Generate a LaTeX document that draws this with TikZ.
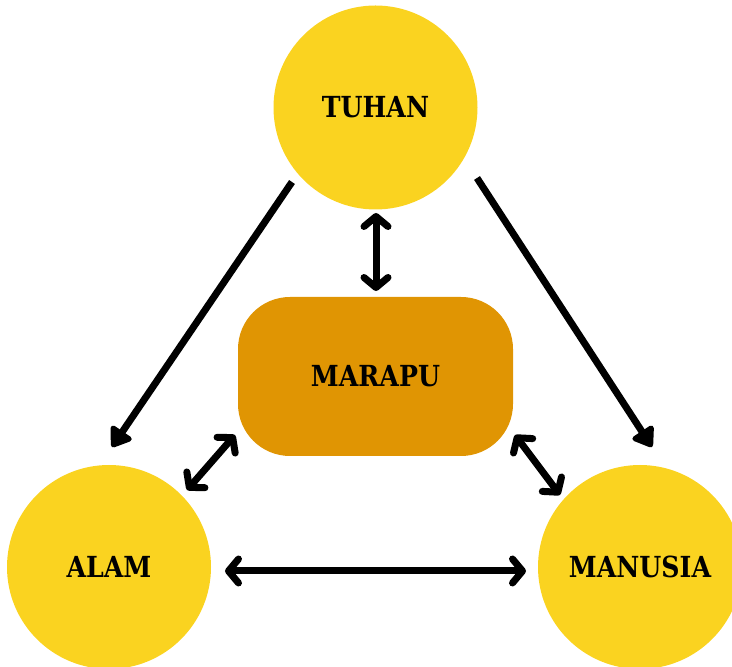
\documentclass[tikz,border=0pt]{standalone}
\usepackage{fontspec}
\setmainfont{DejaVu Serif}[BoldFeatures={FakeStretch=0.87}]
\usetikzlibrary{arrows.meta,calc}
\definecolor{sun}{RGB}{250,211,32}
\definecolor{amber}{RGB}{224,149,3}
\tikzset{
  bigcircle/.style={circle,fill=sun,minimum size=204pt,inner sep=0pt,font=\bfseries\fontsize{29}{34}\selectfont},
  core/.style={rectangle,rounded corners=52pt,fill=amber,minimum width=275pt,minimum height=159pt,inner sep=0pt,font=\bfseries\fontsize{29}{34}\selectfont},
  oneway/.style={line width=7pt,-{Triangle[length=21pt,width=28pt,round]}},
  twoway/.style={line width=7pt,line cap=round,{Straight Barb[length=10pt,width=24pt,round]}-{Straight Barb[length=10pt,width=24pt,round]}}
}
\begin{document}
\begin{tikzpicture}[x=1pt,y=1pt]
\useasboundingbox (0,0) rectangle (732,667);
\node[bigcircle] (tuhan) at (375.5,559.5) {TUHAN};
\node[bigcircle] (alam) at (109,100) {ALAM};
\node[bigcircle] (manusia) at (640,100) {MANUSIA};
\node[core] (marapu) at (375.5,290.5) {MARAPU};
\draw[oneway] ($(tuhan.center)+(-83.5,-74.5)$) -- ($(alam.center)+(3,120)$);
\draw[oneway] ($(tuhan.center)+(101.5,-70.5)$) -- ($(manusia.center)+(12,120)$);
\draw[twoway] ($(tuhan.center)+(0.5,-105.5)$) -- ($(marapu.center)+(0.5,85.5)$);
\draw[twoway] ($(marapu.center)+(-140.5,-58.5)$) -- ($(alam.center)+(78,77)$);
\draw[twoway] ($(marapu.center)+(139.5,-58.5)$) -- ($(manusia.center)+(-80,72)$);
\draw[twoway] ($(alam.center)+(116,-4)$) -- ($(manusia.center)+(-114,-4)$);
\end{tikzpicture}
\end{document}
